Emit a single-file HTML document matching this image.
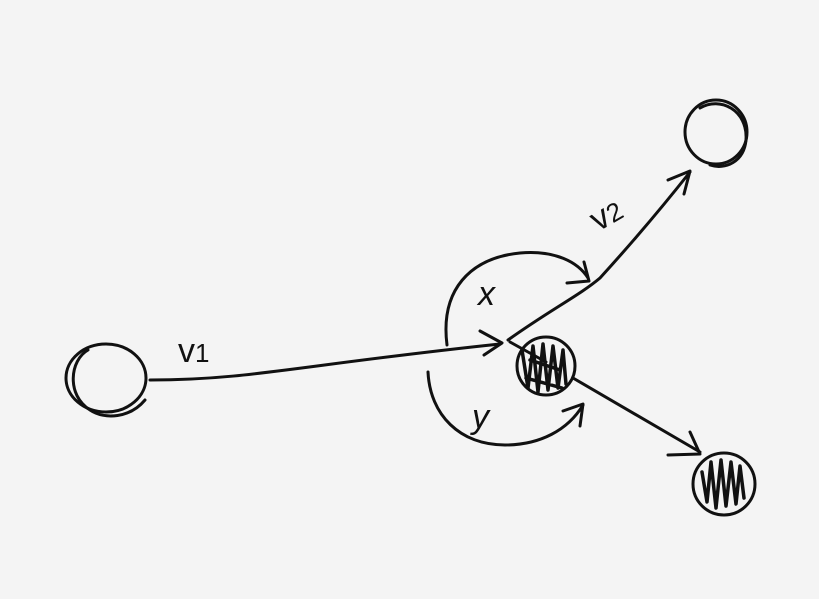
<!DOCTYPE html>
<html><head><style>html,body{margin:0;padding:0;background:#f4f4f4;}svg{display:block}</style></head>
<body>
<svg width="819" height="599" viewBox="0 0 819 599" xmlns="http://www.w3.org/2000/svg">
<rect width="819" height="599" fill="#f4f4f4"/>
<g fill="none" stroke="#111" stroke-width="3" stroke-linecap="round" stroke-linejoin="round">
<ellipse cx="106" cy="378" rx="40" ry="34"/>
<path d="M88 350 C70 360 66 395 90 410 C105 420 130 418 145 400"/>
<path d="M150 380 C250 380 300 365 500 344"/>
<path d="M480 331 L502 343 L484 355"/>
<path d="M508 340 C550 310 580 295 600 278 C630 245 660 210 690 172"/>
<path d="M668 180 L690 171 L684 194"/>
<ellipse cx="716" cy="132" rx="31" ry="32"/>
<path d="M700 108 C720 96 748 110 746 140 C744 162 725 170 710 165"/>
<path d="M510 342 L546 362"/>
<path d="M573 378 L700 452"/>
<path d="M668 455 L700 454 L690 432"/>
<circle cx="546" cy="366" r="29"/>
<path d="M522 350 L528 388 L533 346 L538 392 L543 344 L548 390 L553 346 L558 388 L563 350 L566 384 M526 378 L562 388 M530 360 L560 370" stroke-width="3.5"/>
<circle cx="724" cy="484" r="31"/>
<path d="M702 472 L707 502 L711 462 L716 508 L721 460 L726 506 L731 462 L736 504 L740 466 L744 498" stroke-width="3.5"/>
<path d="M447 345 C440 290 470 258 520 253 C555 250 578 262 588 278"/>
<path d="M567 283 L589 281 L584 262"/>
<path d="M428 372 C430 415 460 445 505 445 C540 445 568 430 583 405"/>
<path d="M563 411 L583 404 L580 426"/>
</g>
<g font-family="Liberation Sans, sans-serif" fill="#111" font-size="34">
<text x="178" y="362">v<tspan font-size="26">1</tspan></text>
<text x="598" y="232" transform="rotate(-30 598 232)">v<tspan font-size="26">2</tspan></text>
<text x="478" y="305" font-style="italic">x</text>
<text x="472" y="428" font-style="italic">y</text>
</g>
</svg>
</body></html>
